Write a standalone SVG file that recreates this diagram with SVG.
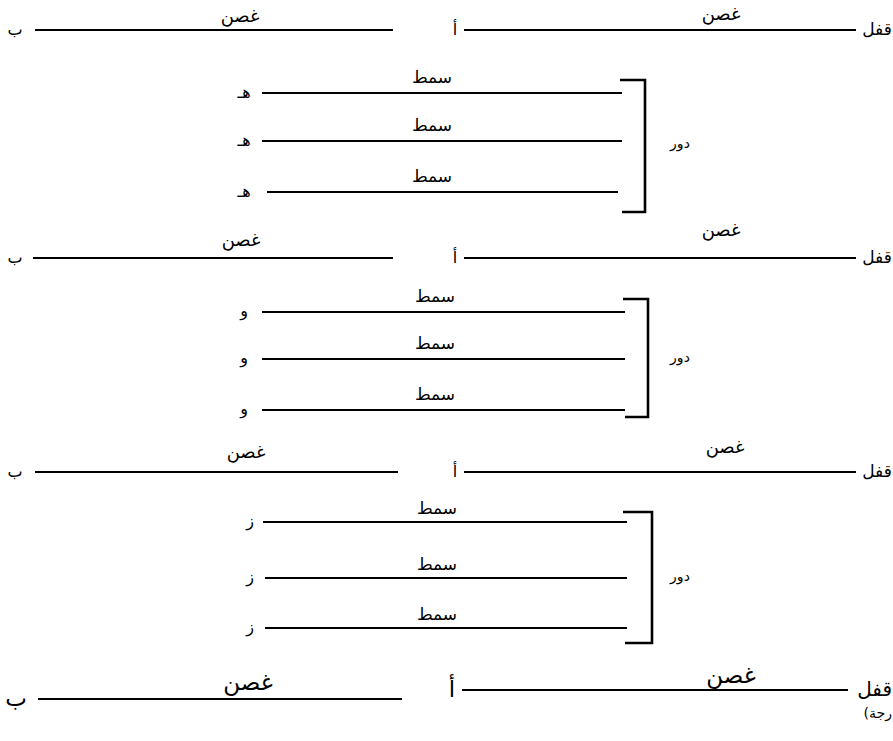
<svg xmlns="http://www.w3.org/2000/svg" width="893" height="741" viewBox="0 0 893 741">
<style>
text{font-family:"DejaVu Sans","Noto Sans",sans-serif;fill:#000;direction:rtl}
.lab{font-size:18px;text-anchor:middle}
.qf{font-size:17px;text-anchor:middle}
.sm{font-size:17px;text-anchor:middle}
.let{font-size:16px;text-anchor:middle}
.big{font-size:23px;text-anchor:middle}
.dw{font-size:14px;text-anchor:middle}
.ln{stroke:#000;stroke-width:2;fill:none}
.br{stroke:#000;stroke-width:2.6;fill:none}
</style>
<rect width="893" height="741" fill="#fff"/>
<g id="connectors">
<line class="ln" x1="35" y1="30" x2="393" y2="30"/>
<line class="ln" x1="464" y1="30" x2="856" y2="30"/>
<line class="ln" x1="262" y1="93" x2="622" y2="93"/>
<line class="ln" x1="262" y1="141" x2="622" y2="141"/>
<line class="ln" x1="267" y1="192" x2="618" y2="192"/>
<path class="br" d="M620 80 H645 V212 H622"/>
<line class="ln" x1="33" y1="258" x2="393" y2="258"/>
<line class="ln" x1="464" y1="258" x2="856" y2="258"/>
<line class="ln" x1="262" y1="312" x2="625" y2="312"/>
<line class="ln" x1="262" y1="359" x2="625" y2="359"/>
<line class="ln" x1="262" y1="410" x2="625" y2="410"/>
<path class="br" d="M623 299 H648 V417 H625"/>
<line class="ln" x1="35" y1="472" x2="398" y2="472"/>
<line class="ln" x1="464" y1="472" x2="856" y2="472"/>
<line class="ln" x1="263" y1="522" x2="627" y2="522"/>
<line class="ln" x1="265" y1="578" x2="627" y2="578"/>
<line class="ln" x1="265" y1="628" x2="627" y2="628"/>
<path class="br" d="M623 512 H652 V643 H625"/>
<line class="ln" x1="38" y1="699" x2="402" y2="699"/>
<line class="ln" x1="462" y1="690" x2="848" y2="690"/>
</g>
<g id="row1">
<text class="qf" x="877" y="35">قفل</text>
<text class="lab" x="721" y="20">غصن</text>
<text class="let" x="455" y="35">أ</text>
<text class="lab" x="240" y="22">غصن</text>
<text class="let" x="15" y="35">ب</text>
</g>
<g id="dawr1">
<text class="dw" x="680" y="148">دور</text>
<text class="sm" x="432" y="83">سمط</text>
<text class="sm" x="432" y="131">سمط</text>
<text class="sm" x="432" y="182">سمط</text>
<text class="let" x="244" y="98">هـ</text>
<text class="let" x="244" y="146">هـ</text>
<text class="let" x="244" y="197">هـ</text>
</g>
<g id="row2">
<text class="qf" x="877" y="263">قفل</text>
<text class="lab" x="721" y="236">غصن</text>
<text class="let" x="455" y="263">أ</text>
<text class="lab" x="241" y="246">غصن</text>
<text class="let" x="15" y="263">ب</text>
</g>
<g id="dawr2">
<text class="dw" x="680" y="362">دور</text>
<text class="sm" x="435" y="302">سمط</text>
<text class="sm" x="435" y="349">سمط</text>
<text class="sm" x="435" y="400">سمط</text>
<text class="let" x="244" y="316">و</text>
<text class="let" x="244" y="363">و</text>
<text class="let" x="244" y="414">و</text>
</g>
<g id="row3">
<text class="qf" x="877" y="477">قفل</text>
<text class="lab" x="725" y="453">غصن</text>
<text class="let" x="455" y="477">أ</text>
<text class="lab" x="246" y="458">غصن</text>
<text class="let" x="15" y="477">ب</text>
</g>
<g id="dawr3">
<text class="dw" x="680" y="581">دور</text>
<text class="sm" x="437" y="514">سمط</text>
<text class="sm" x="437" y="570">سمط</text>
<text class="sm" x="437" y="620">سمط</text>
<text class="let" x="250" y="526">ز</text>
<text class="let" x="250" y="582">ز</text>
<text class="let" x="250" y="632">ز</text>
</g>
<g id="row4">
<text style="font-size:20px;text-anchor:start" x="892" y="696">قفل</text>
<text class="big" x="731" y="683">غصن</text>
<text class="big" x="452" y="697">أ</text>
<text class="big" x="248" y="690">غصن</text>
<text class="big" x="16" y="706">ب</text>
<text style="font-size:14px;text-anchor:start" x="892" y="718">رجة)</text>
</g>
</svg>
